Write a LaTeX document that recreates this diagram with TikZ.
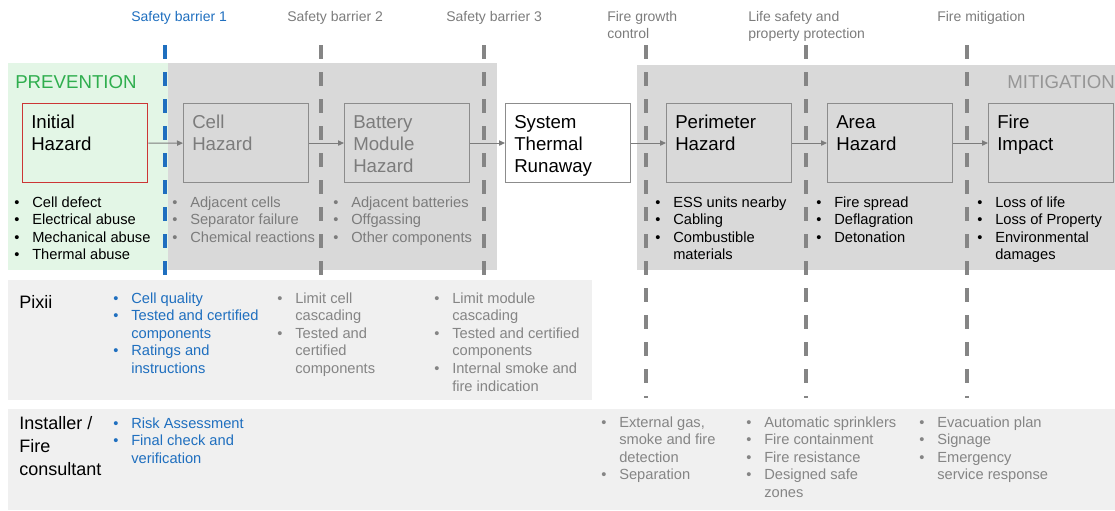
\documentclass[tikz,border=0pt]{standalone}
\usepackage{fontspec}
\setmainfont{Liberation Sans}
\usetikzlibrary{arrows.meta}

\definecolor{barrierblue}{HTML}{1F6FBF}
\definecolor{prevfill}{HTML}{E3F6E6}
\definecolor{prevgreen}{HTML}{2FAE4E}
\definecolor{zonegray}{HTML}{D9D9D9}
\definecolor{rowgray}{HTML}{F0F0F0}
\definecolor{midgray}{HTML}{7C7C7C}
\definecolor{softgray}{HTML}{858585}
\definecolor{boxgray}{HTML}{8C8C8C}
\definecolor{dashgray}{HTML}{858585}
\definecolor{mitgray}{HTML}{969696}
\definecolor{hazardred}{HTML}{CC3535}

% bullet marker with a fixed hanging indent, and the matching indent for wrapped lines
\newcommand\bl{\makebox[13.5pt][l]{\textbullet}}
\newcommand\bi{\hspace*{13.5pt}}
% stacked lines whose baseline is the first line's baseline
\newcommand\stack[1]{\begin{tabular}[t]{@{}l@{}}#1\end{tabular}}

\tikzset{
  hazardbox/.style={draw=boxgray, line width=0.8pt, minimum width=93.75pt,
    minimum height=59.25pt, anchor=north west, inner sep=0pt},
  title/.style={anchor=base west, inner sep=0pt, font=\fontsize{14}{16.5}\selectfont},
  rowtitle/.style={anchor=base west, inner sep=0pt, font=\fontsize{13.5}{17.25}\selectfont},
  bullets/.style={anchor=base west, inner sep=0pt, font=\fontsize{11}{13.2}\selectfont},
  toplabel/.style={anchor=base west, inner sep=0pt, font=\fontsize{10.5}{12.75}\selectfont, text=midgray},
  phase/.style={anchor=base west, inner sep=0pt, font=\fontsize{14}{16.5}\selectfont},
  flow/.style={draw=midgray, line width=0.75pt, -{Triangle[length=4.5pt,width=4pt]}},
  barrier/.style={line width=2.4pt, dash pattern=on 10.5pt off 9.75pt},
}

\begin{document}
\begin{tikzpicture}[x=0.75pt, y=-0.75pt]
\useasboundingbox (0,0) rectangle (1115,511);

% phase zones
\fill[prevfill] (8,63) rectangle (168,270);
\fill[zonegray] (168,63) rectangle (497,270);
\fill[zonegray] (637,65) rectangle (1115,270);

% responsibility rows
\fill[rowgray] (8,280) rectangle (592,400);
\fill[rowgray] (8,409) rectangle (1115,510);

% hazard chain
\node[hazardbox, draw=hazardred, line width=1.1pt] (init) at (22,103) {};
\node[hazardbox] (cell) at (183,103) {};
\node[hazardbox] (module) at (344,103) {};
\node[hazardbox, fill=white] (system) at (505,103) {};
\node[hazardbox] (perim) at (666,103) {};
\node[hazardbox] (area) at (827,103) {};
\node[hazardbox] (impact) at (988,103) {};

\draw[flow] (init) -- (cell);
\draw[flow] (cell) -- (module);
\draw[flow] (module) -- (system);
\draw[flow] (system) -- (perim);
\draw[flow] (perim) -- (area);
\draw[flow] (area) -- (impact);

% safety barriers
\draw[barrier, draw=barrierblue] (165,45) -- (165,284);
\draw[barrier, draw=dashgray] (321,45) -- (321,284);
\draw[barrier, draw=dashgray] (484,45) -- (484,284);
\draw[barrier, draw=dashgray] (646,45) -- (646,398);
\draw[barrier, draw=dashgray] (806,45) -- (806,398);
\draw[barrier, draw=dashgray] (967,45) -- (967,398);

% barrier headings
\node[toplabel, text=barrierblue] (lab1) at (131,21) {Safety barrier 1};
\node[toplabel] (lab2) at (287,21) {Safety barrier 2};
\node[toplabel] (lab3) at (446,21) {Safety barrier 3};
\node[toplabel] (lab4) at (607,21) {\stack{Fire growth\\control}};
\node[toplabel] (lab5) at (748,21) {\stack{Life safety and\\property protection}};
\node[toplabel] (lab6) at (937,21) {Fire mitigation};

% phase names
\node[phase, text=prevgreen] (prev) at (15,88) {PREVENTION};
\node[phase, text=mitgray] (mitig) at (1007,88) {MITIGATION};

% box titles
\node[title] (tinit) at (31,128) {\stack{Initial\\Hazard}};
\node[title, text=midgray] (tcell) at (192,128) {\stack{Cell\\Hazard}};
\node[title, text=midgray] (tmodule) at (353,128) {\stack{Battery\\Module\\Hazard}};
\node[title] (tsystem) at (514,128) {\stack{System\\Thermal\\Runaway}};
\node[title] (tperim) at (675,128) {\stack{Perimeter\\Hazard}};
\node[title] (tarea) at (836,128) {\stack{Area\\Hazard}};
\node[title] (timpact) at (997,128) {\stack{Fire\\Impact}};

% causes under each hazard
\node[bullets] (linit) at (14,207) {\stack{\bl Cell defect\\\bl Electrical abuse\\\bl Mechanical abuse\\\bl Thermal abuse}};
\node[bullets, text=midgray] (lcell) at (172,207) {\stack{\bl Adjacent cells\\\bl Separator failure\\\bl Chemical reactions}};
\node[bullets, text=midgray] (lmodule) at (333,207) {\stack{\bl Adjacent batteries\\\bl Offgassing\\\bl Other components}};
\node[bullets] (lperim) at (655,207) {\stack{\bl ESS units nearby\\\bl Cabling\\\bl Combustible\\\bi materials}};
\node[bullets] (larea) at (816,207) {\stack{\bl Fire spread\\\bl Deflagration\\\bl Detonation}};
\node[bullets] (limpact) at (977,207) {\stack{\bl Loss of life\\\bl Loss of Property\\\bl Environmental\\\bi damages}};

% Pixii row
\node[rowtitle] (pixii) at (19,308) {Pixii};
\node[bullets, text=barrierblue] (p1) at (113,303) {\stack{\bl Cell quality\\\bl Tested and certified\\\bi components\\\bl Ratings and\\\bi instructions}};
\node[bullets, text=softgray] (p2) at (277,303) {\stack{\bl Limit cell\\\bi cascading\\\bl Tested and\\\bi certified\\\bi components}};
\node[bullets, text=softgray] (p3) at (434,303) {\stack{\bl Limit module\\\bi cascading\\\bl Tested and certified\\\bi components\\\bl Internal smoke and\\\bi fire indication}};

% installer row
\node[rowtitle] (installer) at (19,429) {\stack{Installer /\\Fire\\consultant}};
\node[bullets, text=barrierblue] (i1) at (113,428) {\stack{\bl Risk Assessment\\\bl Final check and\\\bi verification}};
\node[bullets, text=softgray] (i2) at (601,427) {\stack{\bl External gas,\\\bi smoke and fire\\\bi detection\\\bl Separation}};
\node[bullets, text=softgray] (i3) at (746,427) {\stack{\bl Automatic sprinklers\\\bl Fire containment\\\bl Fire resistance\\\bl Designed safe\\\bi zones}};
\node[bullets, text=softgray] (i4) at (919,427) {\stack{\bl Evacuation plan\\\bl Signage\\\bl Emergency\\\bi service response}};
\end{tikzpicture}
\end{document}
